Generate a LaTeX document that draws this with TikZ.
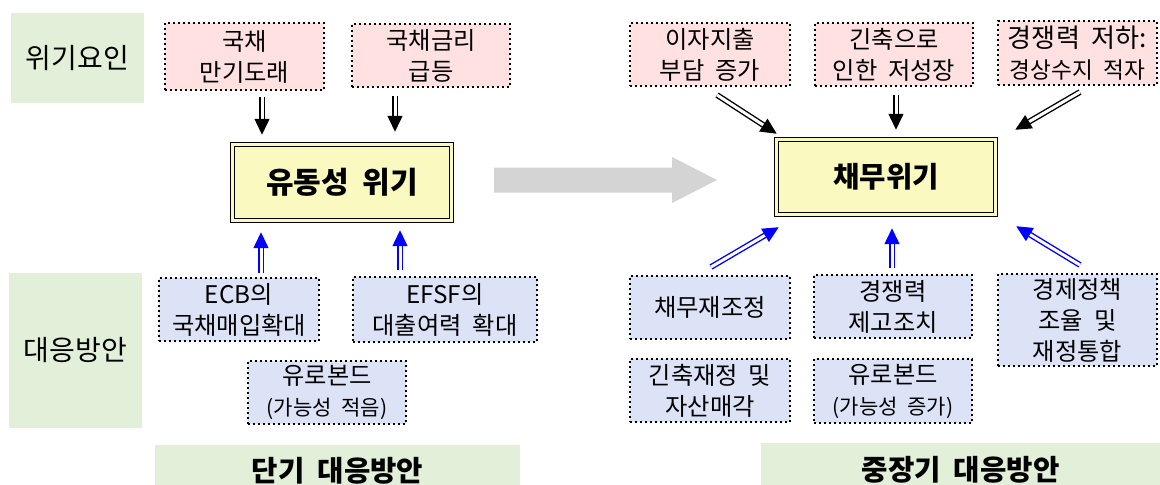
\documentclass[tikz,border=0pt]{standalone}
\usepackage{fontspec}
\setmainfont[WordSpace=2]{Noto Sans CJK KR}
\usetikzlibrary{arrows.meta,calc}
\newlength{\pxu}\setlength{\pxu}{0.75pt}
\definecolor{lgreen}{HTML}{E2F0D9}
\definecolor{lpink}{HTML}{FFE1E1}
\definecolor{lblue}{HTML}{DDE3F7}
\definecolor{lyel}{HTML}{FAFAC0}
\definecolor{lgray}{HTML}{D4D4D4}
\begin{document}
\begin{tikzpicture}[x=0.75pt,y=-0.75pt,
  txt/.style={font=\fontsize{18.2pt}{23.25pt}\selectfont, align=center, inner sep=0pt},
  dotbox/.style={txt, draw=black, line width=1.5pt, dash pattern=on 1.5pt off 2.25pt},
  pinkbox/.style={dotbox, fill=lpink},
  bluebox/.style={dotbox, fill=lblue},
  greenlab/.style={fill=lgreen, inner sep=0pt, font=\fontsize{21pt}{24pt}\selectfont},
  botlab/.style={fill=lgreen, inner sep=0pt, font=\fontsize{21.5pt}{24pt}\selectfont\bfseries},
  mainbox/.style={fill=lyel, draw=black, double=lyel, line width=1.1pt, double distance=1.9pt, inner sep=0pt, font=\fontsize{22.5pt}{24pt}\selectfont\bfseries},
  barr/.style={draw=black, double=white, line width=1.05pt, double distance=2.25pt, -{Triangle[width=11.25pt,length=12pt]}},
  blarr/.style={draw=blue, double=white, line width=1.05pt, double distance=2.25pt, -{Triangle[width=11.25pt,length=12pt]}}
]
\useasboundingbox (0,0) rectangle (1160,485);
\clip (0,0) rectangle (1160,485);
% side labels
\node[greenlab, minimum width=133\pxu, minimum height=90\pxu] (L1) at (77.5,58) {위기요인};
\node[greenlab, minimum width=133\pxu, minimum height=155\pxu] (L2) at (75.5,350.5) {대응방안};
\node[botlab, minimum width=365\pxu, minimum height=52\pxu] (S1) at (337.5,471) {단기 대응방안};
\node[botlab, minimum width=400\pxu, minimum height=54\pxu] (S2) at (960.5,470) {중장기 대응방안};
% crisis factors
\node[pinkbox, minimum width=159\pxu, minimum height=67\pxu] (P1) at (244.5,56.5) {국채\\만기도래};
\node[pinkbox, minimum width=158\pxu, minimum height=63\pxu] (P2) at (431,55.5) {국채금리\\급등};
\node[pinkbox, minimum width=160\pxu, minimum height=63\pxu] (P3) at (710,54.5) {이자지출\\부담 증가};
\node[pinkbox, minimum width=158\pxu, minimum height=63\pxu] (P4) at (894,54.5) {긴축으로\\인한 저성장};
\node[pinkbox, minimum width=159\pxu, minimum height=64\pxu] (P5) at (1077.5,53) {{\fontsize{19.6pt}{23.25pt}\selectfont 경쟁력 저하:}\\{\fontsize{17pt}{23.25pt}\selectfont 경상수지 적자}};
% main boxes
\node[mainbox, minimum width=219\pxu, minimum height=76\pxu] (M1) at (342,182.5) {유동성 위기};
\node[mainbox, minimum width=219\pxu, minimum height=75\pxu, font=\fontsize{21.5pt}{24pt}\selectfont\bfseries] (M2) at (886,177) {채무위기};
% responses
\node[bluebox, minimum width=160\pxu, minimum height=63\pxu] (E1) at (239,309.5) {ECB의\\국채매입확대};
\node[bluebox, minimum width=184\pxu, minimum height=65\pxu] (E2) at (445,309.5) {EFSF의\\대출여력 확대};
\node[bluebox, minimum width=158\pxu, minimum height=63\pxu] (E3) at (327,392.5) {유로본드\\{\fontsize{15.8pt}{23.25pt}\selectfont (가능성 적음)}};
\node[bluebox, minimum width=160\pxu, minimum height=63\pxu] (R1) at (710,307.5) {채무재조정};
\node[bluebox, minimum width=158\pxu, minimum height=63\pxu] (R2) at (893,306.5) {경쟁력\\제고조치};
\node[bluebox, minimum width=159\pxu, minimum height=92\pxu] (R3) at (1077.5,320) {경제정책\\조율 및\\재정통합};
\node[bluebox, minimum width=160\pxu, minimum height=63\pxu] (R4) at (710,390.5) {긴축재정 및\\자산매각};
\node[bluebox, minimum width=158\pxu, minimum height=64\pxu] (R5) at (893,391) {유로본드\\{\fontsize{15.8pt}{23.25pt}\selectfont (가능성 증가)}};
% big gray arrow
\fill[lgray] (494,167.5) -- (672,167.5) -- (672,157) -- (717,180) -- (672,203) -- (672,192.5) -- (494,192.5) -- cycle;
% black arrows
\draw[barr] ($(P1.south)+(17.5,6)$) -- ($(M1.north)+(-80,-9)$);
\draw[barr] ($(P2.south)+(-36,8)$) -- ($(M1.north)+(53,-12)$);
\draw[barr] ($(P3.south east)+(-74,8)$) -- ($(M2.north west)+(1,-5)$);
\draw[barr] ($(P4.south)+(2,8)$) -- ($(M2.north)+(10,-9)$);
\draw[barr] ($(P5.south)+(2.5,6)$) -- ($(M2.north east)+(19,-9)$);
% blue arrows
\draw[blarr] ($(E1.north)+(22,-4)$) -- ($(M1.south)+(-81,11)$);
\draw[blarr] ($(E2.north)+(-45,-6)$) -- ($(M1.south)+(58,9)$);
\draw[blarr] ($(R1.north)+(1,-8)$) -- ($(M2.south west)+(3,12)$);
\draw[blarr] ($(R2.north)+(-1,-6)$) -- ($(M2.south)+(6,13)$);
\draw[blarr] ($(R3.north)+(2.5,-8)$) -- ($(M2.south east)+(20,11)$);
\end{tikzpicture}
\end{document}
